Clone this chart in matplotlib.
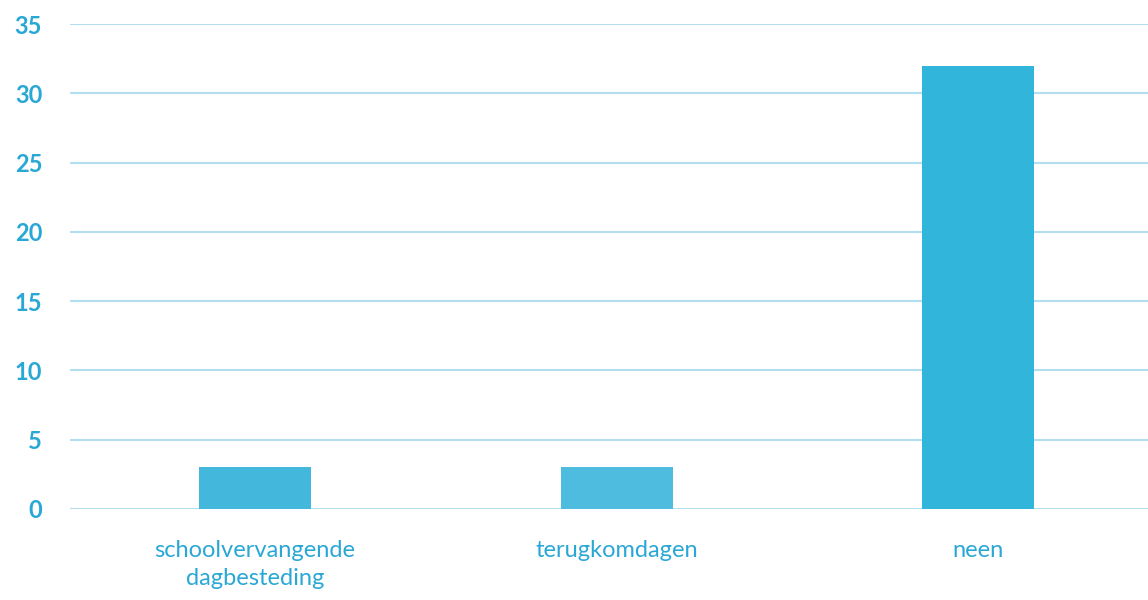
import matplotlib
matplotlib.use("Agg")
from matplotlib import pyplot as plt

categories = ["schoolvervangende\ndagbesteding", "terugkomdagen", "neen"]
values = [3, 3, 32]
bar_colors = ["#44b8dc", "#4dbcdf", "#31b5da"]
yticks = [0, 5, 10, 15, 20, 25, 30, 35]

text_color = "#2aa8d5"
grid_color = "#b2def0"

plt.rcParams["font.family"] = ["Lato", "DejaVu Sans"]

fig = plt.figure(figsize=(11.48, 6.0), dpi=100)
ax = fig.add_axes([0.061, 0.1517, 0.939, 0.8083])

x = range(len(categories))
ax.bar(x, values, width=0.31, color=bar_colors, zorder=3)

ax.set_ylim(0, 35)
ax.set_xlim(-0.512, 2.47)
ax.set_yticks(yticks)
ax.set_xticks(list(x))
ax.set_xticklabels(categories, color=text_color, fontsize=17, linespacing=1.45)
ax.tick_params(axis="y", labelcolor=text_color, labelsize=17, length=0, pad=20)
ax.tick_params(axis="x", length=0, pad=22)
for lab in ax.get_yticklabels():
    lab.set_fontweight("bold")

ax.grid(axis="y", color=grid_color, linewidth=1.5, zorder=0)
for s in ax.spines.values():
    s.set_visible(False)

fig.savefig("out.png", dpi=100)
